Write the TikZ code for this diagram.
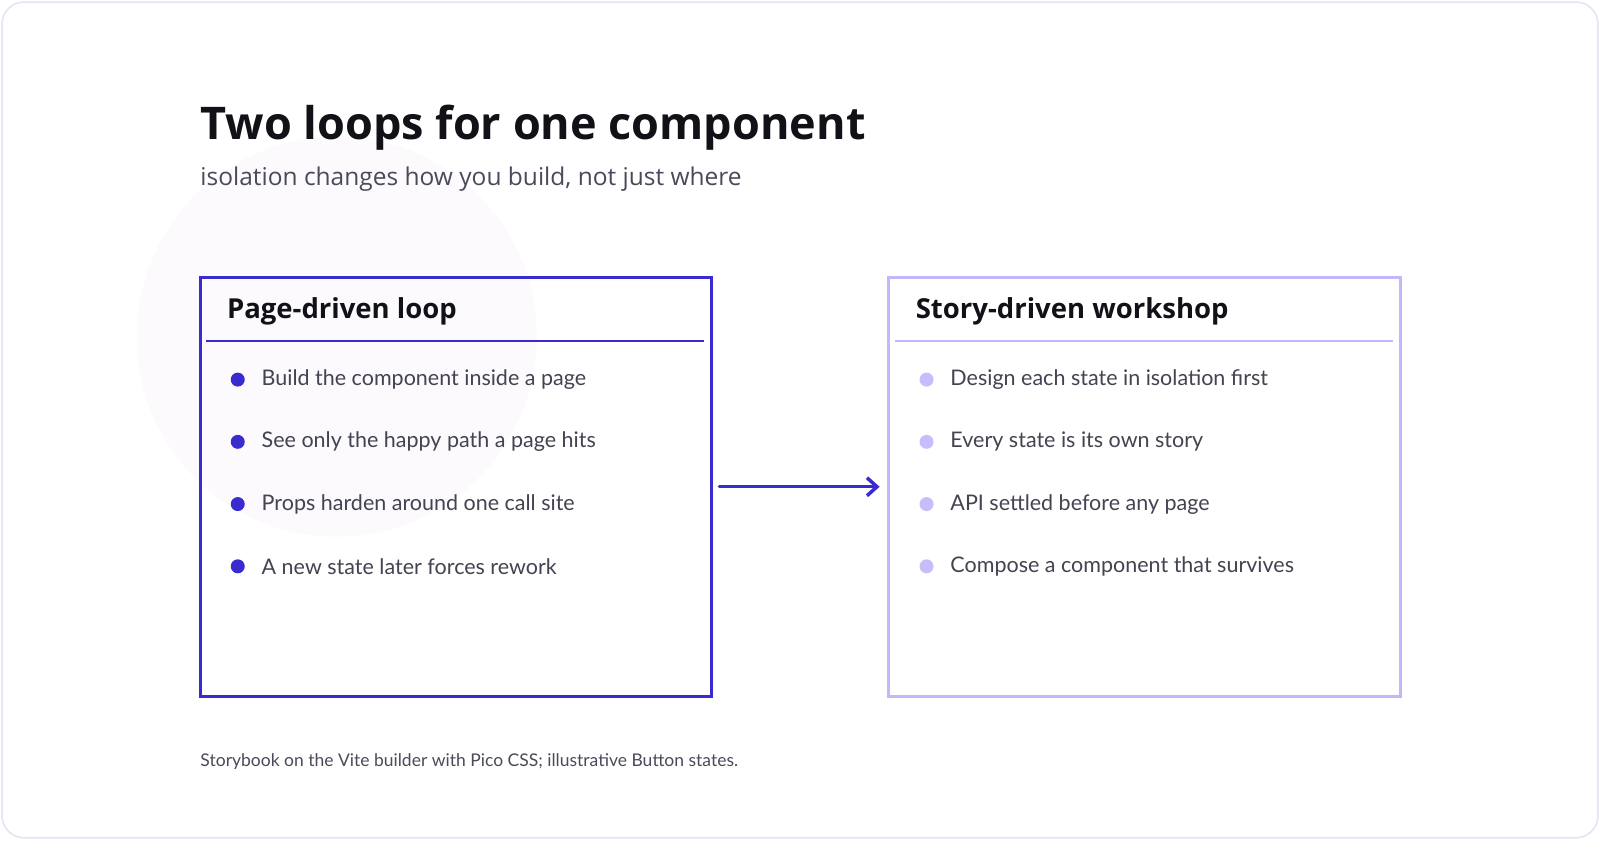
\documentclass[tikz,border=0pt]{standalone}
\usepackage{fontspec}
\setmainfont{Lato}
\newfontfamily\titlefont{Open Sans}
\usetikzlibrary{arrows.meta}
\definecolor{dark}{HTML}{3A2BD0}
\definecolor{light}{HTML}{C4B5FD}
\definecolor{lightdot}{HTML}{C9BCFB}
\definecolor{frame}{HTML}{E6E2F5}
\definecolor{ink}{HTML}{111118}
\definecolor{sub}{HTML}{4A4A5A}
\begin{document}
\begin{tikzpicture}[x=1.0204pt,y=-1.0204pt,
  bx/.style={line width=3pt},
  head/.style={anchor=west,font=\titlefont\fontsize{27.5}{30}\selectfont\bfseries,text=ink},
  item/.style={anchor=west,font=\fontsize{21.5}{24}\selectfont,text=sub!90!black},
  dot/.style={circle,inner sep=0pt,minimum size=14pt}]
\fill[white] (0,0) rectangle (1568,823.2);
\fill[violet!2] (330,330) circle (200pt);
\draw[frame,line width=1.5pt,rounded corners=22pt] (2,2) rectangle (1566,821);
\node[anchor=west,font=\titlefont\fontsize{45}{50}\selectfont\bfseries,text=ink] (t) at (193,125) {Two loops for one component};
\node[anchor=west,font=\titlefont\fontsize{24.5}{28}\selectfont,text=sub] (s) at (193,176) {isolation changes how you build, not just where};
% left box
\draw[dark,bx] (196,272) rectangle (697,683);
\draw[dark,line width=2.5pt] (202,334) -- (690,334);
\node[head] (lh) at (219,305) {Page-driven loop};
\foreach \y/\t [count=\i] in {372/Build the component inside a page,433/See only the happy path a page hits,494/Props harden around one call site,555/A new state later forces rework}{
  \node[dot,fill=dark] (ld\i) at (233,\y) {};
  \node[item] (lt\i) at (253,\y) {\t};
}
% right box
\draw[light,bx] (871,272) rectangle (1372,683);
\draw[light,line width=2.5pt] (877,334) -- (1365,334);
\node[head] (rh) at (894,305) {Story-driven workshop};
\foreach \y/\t [count=\i] in {372/Design each state in isolation first,433/Every state is its own story,494/API settled before any page,555/Compose a component that survives}{
  \node[dot,fill=lightdot] (rd\i) at (908,\y) {};
  \node[item] (rt\i) at (928,\y) {\t};
}
\coordinate (a1) at (705,477);
\coordinate (a2) at (862,477);
\draw[dark,line width=3.5pt,line cap=round,-{Straight Barb[length=10pt,width=18pt,line width=3.5pt]}] (a1) -- (a2);
\node[anchor=west,font=\fontsize{17.5}{20}\selectfont,text=sub] (f) at (193,746) {Storybook on the Vite builder with Pico CSS; illustrative Button states.};
\pgfresetboundingbox
\useasboundingbox (0,0) rectangle (1568,823.2);
\end{tikzpicture}
\end{document}
